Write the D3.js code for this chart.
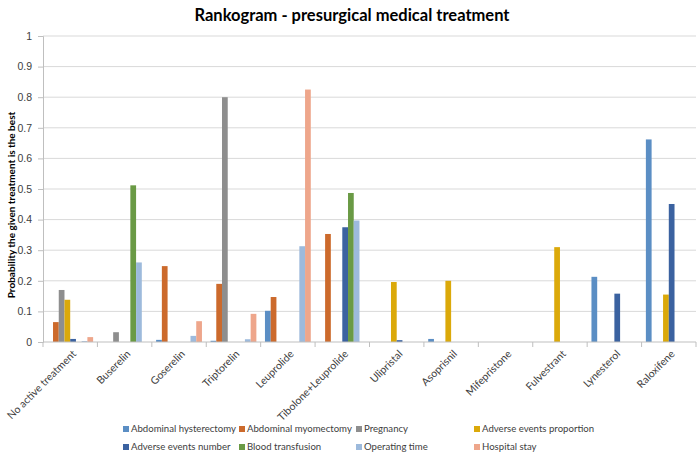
<!DOCTYPE html>
<html><head><meta charset="utf-8">
<script src="https://cdn.jsdelivr.net/npm/d3@7"></script>
<style>
body{margin:0;background:#fff;}
svg{font-family:Lato,"Open Sans",sans-serif;}
</style></head>
<body><svg id="c" width="700" height="461"></svg>
<script>
const categories = ["No active treatment","Buserelin","Goserelin","Triptorelin","Leuprolide","Tibolone+Leuprolide","Ulipristal","Asoprisnil","Mifepristone","Fulvestrant","Lynesterol","Raloxifene"];
const seriesNames = ["Abdominal hysterectomy","Abdominal myomectomy","Pregnancy","Adverse events proportion","Adverse events number","Blood transfusion","Operating time","Hospital stay"];
const abdominalHysterectomy = [0, 0, 0.007, 0.004, 0.102, 0, 0, 0.01, 0, 0, 0.213, 0.662];
const abdominalMyomectomy   = [0.065, 0, 0.248, 0.19, 0.147, 0.353, 0, 0, 0, 0, 0, 0];
const pregnancy             = [0.17, 0.032, 0, 0.8, 0, 0, 0, 0, 0, 0, 0, 0];
const adverseProportion     = [0.138, 0, 0, 0, 0, 0, 0.196, 0.2, 0, 0.31, 0, 0.155];
const adverseNumber         = [0.01, 0, 0, 0, 0, 0.375, 0.006, 0, 0, 0, 0.158, 0.451];
const bloodTransfusion      = [0, 0.512, 0, 0, 0, 0.487, 0, 0, 0, 0, 0, 0];
const operatingTime         = [0.003, 0.26, 0.02, 0.009, 0.313, 0.397, 0, 0, 0, 0, 0, 0];
const hospitalStay          = [0.016, 0, 0.068, 0.092, 0.825, 0, 0, 0, 0, 0, 0, 0];
const yTicks = [0,0.1,0.2,0.3,0.4,0.5,0.6,0.7,0.8,0.9,1];
const colors = ["#5b8ec4","#cc6a2c","#8e8e8e","#dba90a","#3b62a0","#6a9a45","#9dbadc","#eea68b"];

const seriesValues = [abdominalHysterectomy, abdominalMyomectomy, pregnancy, adverseProportion, adverseNumber, bloodTransfusion, operatingTime, hospitalStay];

const svg = d3.select("#c");
const mLeft = 43, mRight = 696, mTop = 36, mBottom = 342;

const x0 = d3.scaleBand().domain(categories).range([mLeft, mRight]).padding(0);
const x1 = d3.scaleBand().domain(seriesNames).range([0, x0.bandwidth()]).paddingInner(0).paddingOuter(0.75);
const y = d3.scaleLinear().domain([0, 1]).range([mBottom, mTop]);
const color = d3.scaleOrdinal().domain(seriesNames).range(colors);

// title
svg.append("text").attr("x", 352).attr("y", 21).attr("text-anchor", "middle")
  .style("font-size", "16.5px").style("font-weight", "bold").attr("fill", "#000")
  .text("Rankogram - presurgical medical treatment");

// gridlines
svg.append("g").selectAll("line").data(yTicks.slice(1)).join("line")
  .attr("x1", mLeft).attr("x2", mRight).attr("y1", d => y(d)).attr("y2", d => y(d))
  .attr("stroke", "#d9d9d9").attr("stroke-width", 1);

// y axis
const yAxis = svg.append("g").attr("transform", `translate(${mLeft},0)`)
  .call(d3.axisLeft(y).tickValues(yTicks).tickFormat(d => String(+d.toFixed(1))).tickSize(5).tickPadding(6));
yAxis.select(".domain").attr("stroke", "#bfbfbf");
yAxis.selectAll(".tick line").attr("stroke", "#bfbfbf");
yAxis.selectAll(".tick text").style("font-size", "10.5px").attr("fill", "#404040");

// y title
svg.append("text").attr("transform", `translate(15,205) rotate(-90)`)
  .attr("text-anchor", "middle").style("font-size", "10px").style("font-weight", "bold").attr("fill", "#000")
  .text("Probability the given treatment is the best");

// bars
const groups = svg.append("g").selectAll("g").data(categories).join("g")
  .attr("transform", d => `translate(${x0(d)},0)`);
groups.selectAll("rect").data((c, i) => seriesNames.map((s, j) => ({s, v: seriesValues[j][i]}))).join("rect")
  .attr("x", d => x1(d.s)).attr("width", x1.bandwidth())
  .attr("y", d => y(d.v)).attr("height", d => y(0) - y(d.v))
  .attr("fill", d => color(d.s));

// x axis
const xAxis = svg.append("g").attr("transform", `translate(0,${mBottom})`);
xAxis.append("line").attr("x1", mLeft).attr("x2", mRight).attr("stroke", "#bfbfbf");
const bounds = categories.map(c => x0(c)).concat([mRight]);
xAxis.selectAll("line.t").data(bounds).join("line").attr("class", "t")
  .attr("x1", d => d).attr("x2", d => d).attr("y1", 0).attr("y2", 5).attr("stroke", "#bfbfbf");
xAxis.selectAll("text").data(categories).join("text")
  .attr("transform", d => `translate(${x0(d) + x0.bandwidth() / 2 + 4},${10}) rotate(-45)`)
  .attr("text-anchor", "end").attr("dy", "0.35em").style("font-size", "10.5px").attr("fill", "#404040")
  .text(d => d);

// legend
const legX = [123, 239, 356, 474];
const leg = svg.append("g").selectAll("g").data(seriesNames).join("g")
  .attr("transform", (d, i) => `translate(${legX[i % 4]},${i < 4 ? 429 : 447})`);
leg.append("rect").attr("x", 0).attr("y", -3).attr("width", 6).attr("height", 6).attr("fill", d => color(d));
leg.append("text").attr("x", 8).attr("y", 0).attr("dy", "0.35em").style("font-size", "9.6px").attr("fill", "#404040").text(d => d);
</script></body></html>
